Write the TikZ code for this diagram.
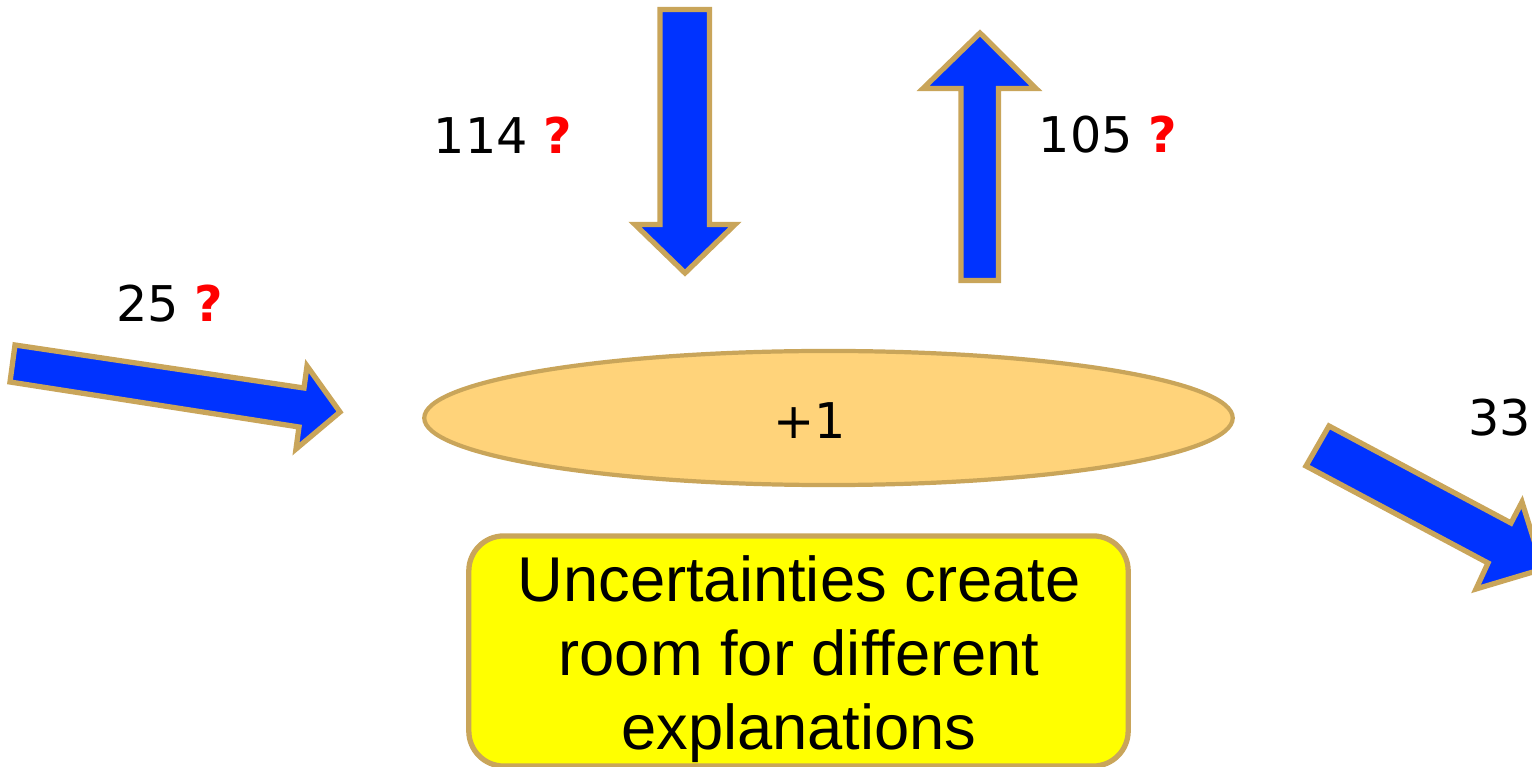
\documentclass[tikz,border=0pt]{standalone}
\usepackage{fontspec}
\setmainfont{Liberation Sans}
\newfontfamily\numfont{DejaVu Sans}
\usetikzlibrary{shapes.geometric}

\definecolor{flowblue}{HTML}{0033FF}
\definecolor{rimtan}{HTML}{C9A55A}
\definecolor{poolfill}{HTML}{FFD37A}
\definecolor{notefill}{HTML}{FFFF00}

\tikzset{
  flow/.style={fill=flowblue, draw=rimtan, line width=1.5pt, miter limit=20},
  amount/.style={inner sep=0pt, font=\numfont\fontsize{14}{16}\selectfont},
}
\newcommand{\unsure}{\textcolor{red}{\bfseries ?}}

\begin{document}
\begin{tikzpicture}[x=0.01cm, y=-0.01cm]
  \useasboundingbox (0,0) rectangle (1532,767);
  \clip (0,0) rectangle (1532,767);

  % Inflow from the left
  \draw[flow] (15,345) -- (304,388) -- (307,366) -- (340,412) -- (296,449)
    -- (299,427) -- (10,382) -- cycle;
  \node[amount] (inleft) at (170,304) {25 \unsure};

  % Inflow from above
  \draw[flow] (660,9.5) -- (709.5,9.5) -- (709.5,224.5) -- (735,224.5)
    -- (685,273) -- (635,224.5) -- (660,224.5) -- cycle;
  \node[amount] (intop) at (503,135) {114 \unsure};

  % Outflow upwards
  \draw[flow] (961,280.5) -- (998.5,280.5) -- (998.5,88.5) -- (1036,88.5)
    -- (980,33) -- (923,88.5) -- (961,88.5) -- cycle;
  \node[amount] (outtop) at (1108,135) {105 \unsure};

  % Outflow to the right
  \draw[flow] (1329,426) -- (1511,523) -- (1522,502) -- (1543,569)
    -- (1476,589) -- (1488,563) -- (1306,466) -- cycle;
  \node[amount] (outright) at (1500,418) {33};

  % Pool
  \node[ellipse, fill=poolfill, draw=rimtan, line width=1.2pt,
    minimum width=8.08cm, minimum height=1.34cm] (pool) at (828.5,418) {};
  \node[amount] (change) at (810,421) {+1};

  % Note
  \node[fill=notefill, draw=rimtan, line width=1.5pt, rounded corners=0.35cm,
    minimum width=6.59cm, minimum height=2.3cm] (note) at (798.5,651) {};
  \node[align=center, inner sep=0pt, font=\fontsize{18}{21}\selectfont]
    (notetext) at (799,659) {Uncertainties create\\room for different\\explanations};
\end{tikzpicture}
\end{document}
